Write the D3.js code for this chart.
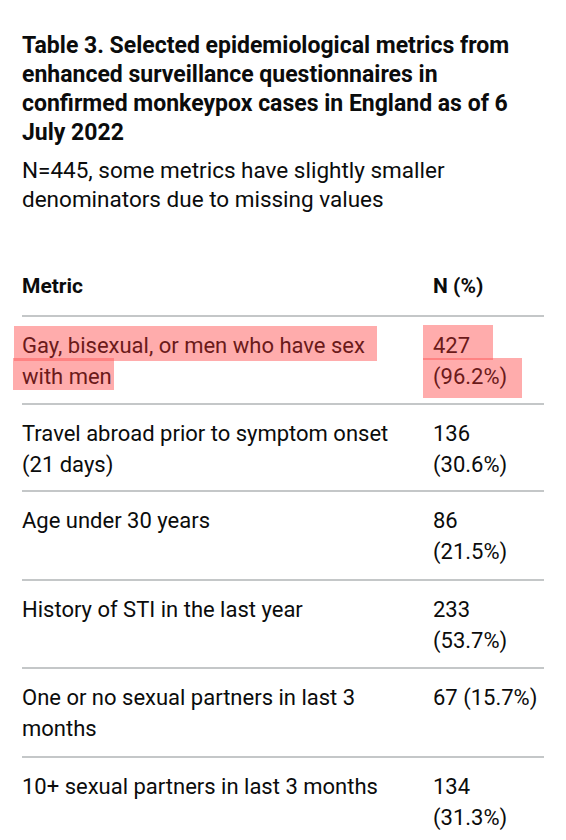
<!DOCTYPE html>
<html><head><meta charset="utf-8">
<script src="https://cdn.jsdelivr.net/npm/d3@7"></script>
<style>body{margin:0;background:#fff}</style>
</head><body>
<script>
// table contents
var titleLines = ["Table 3. Selected epidemiological metrics from",
  "enhanced surveillance questionnaires in",
  "confirmed monkeypox cases in England as of 6",
  "July 2022"];
var subtitleLines = ["N=445, some metrics have slightly smaller",
  "denominators due to missing values"];
var headers = ["Metric", "N (%)"];
var metrics = [
  ["Gay, bisexual, or men who have sex", "with men"],
  ["Travel abroad prior to symptom onset", "(21 days)"],
  ["Age under 30 years"],
  ["History of STI in the last year"],
  ["One or no sexual partners in last 3", "months"],
  ["10+ sexual partners in last 3 months"]
];
var counts = [427, 136, 86, 233, 67, 134];
var percents = ["96.2%", "30.6%", "21.5%", "53.7%", "15.7%", "31.3%"];
var valueSplit = [true, true, true, true, false, true];

var W = 566, H = 840, font = "Roboto, 'Noto Sans', sans-serif";
var svg = d3.select("body").append("svg").attr("width", W).attr("height", H);

svg.selectAll("text.title").data(titleLines).join("text")
  .attr("x", 22).attr("y", function(d, i) { return 53 + i * 29; })
  .attr("font-family", font).attr("font-weight", "bold").attr("font-size", 23)
  .attr("fill", "#0b0c0c").text(function(d) { return d; });

svg.selectAll("text.sub").data(subtitleLines).join("text")
  .attr("x", 22).attr("y", function(d, i) { return 178 + i * 29; })
  .attr("font-family", font).attr("font-size", 22.5)
  .attr("fill", "#0b0c0c").text(function(d) { return d; });

svg.append("text").attr("x", 22).attr("y", 293).attr("font-family", font)
  .attr("font-weight", "bold").attr("font-size", 21).attr("fill", "#0b0c0c").text(headers[0]);
svg.append("text").attr("x", 433).attr("y", 293).attr("font-family", font)
  .attr("font-weight", "bold").attr("font-size", 21).attr("fill", "#0b0c0c").text(headers[1]);

var rowY = d3.scaleOrdinal().domain(d3.range(metrics.length)).range([316, 404, 491, 580, 668, 757]);

// highlight on first row
var hl = svg.append("g").attr("fill", "rgba(255,90,90,0.5)");
hl.append("rect").attr("x", 14).attr("y", 326).attr("width", 363).attr("height", 35);
hl.append("rect").attr("x", 13).attr("y", 358).attr("width", 101).attr("height", 32);
hl.append("rect").attr("x", 423).attr("y", 325).attr("width", 70).attr("height", 35);
hl.append("rect").attr("x", 423).attr("y", 358).attr("width", 99).attr("height", 40);

svg.selectAll("line.rule").data(metrics).join("line")
  .attr("x1", 22).attr("x2", 544)
  .attr("y1", function(d, i) { return rowY(i); }).attr("y2", function(d, i) { return rowY(i); })
  .attr("stroke", "#b1b4b6").attr("stroke-width", 1.5);

var rows = svg.selectAll("g.row").data(metrics).join("g")
  .attr("transform", function(d, i) { return "translate(0," + rowY(i) + ")"; });

rows.each(function(d, i) {
  var g = d3.select(this);
  var col = i === 0 ? "#6b1a1a" : "#0b0c0c";
  d.forEach(function(line, j) {
    g.append("text").attr("x", 22).attr("y", 37 + j * 31)
      .attr("font-family", font).attr("font-size", 22).attr("fill", col).text(line);
  });
  var vals = valueSplit[i] ? [String(counts[i]), "(" + percents[i] + ")"]
    : [counts[i] + " (" + percents[i] + ")"];
  vals.forEach(function(v, j) {
    g.append("text").attr("x", 433).attr("y", 37 + j * 31)
      .attr("font-family", font).attr("font-size", 22).attr("fill", col).text(v);
  });
});
</script>
</body></html>
